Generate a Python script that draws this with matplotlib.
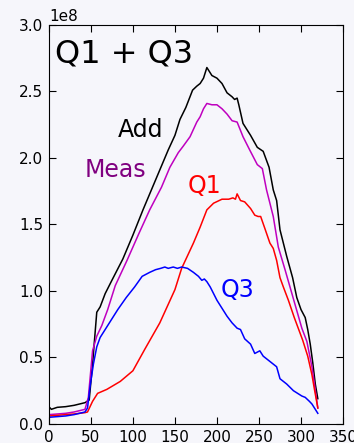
import matplotlib
matplotlib.use("Agg")
import matplotlib.pyplot as plt

# channel index vs. intensity for the summed and measured profiles
add_x = [0, 3, 10, 20, 30, 43, 48, 52, 57, 61, 67, 75, 88, 100, 112, 122, 132, 142, 150,
         156, 163, 171, 176, 180, 184, 188, 194, 200, 206, 212, 218, 221, 224, 226, 231,
         240, 248, 255, 262, 267, 271, 275, 283, 290, 295, 300, 305, 308, 311, 314, 317,
         320]
add_y = [0.13, 0.11, 0.125, 0.13, 0.14, 0.16, 0.18, 0.45, 0.84, 0.88, 0.98, 1.08, 1.24,
         1.42, 1.61, 1.76, 1.91, 2.06, 2.17, 2.29, 2.38, 2.51, 2.54, 2.56, 2.60, 2.68,
         2.62, 2.60, 2.56, 2.49, 2.46, 2.44, 2.45, 2.40, 2.26, 2.17, 2.08, 2.05, 1.93,
         1.76, 1.68, 1.46, 1.26, 1.10, 0.95, 0.86, 0.80, 0.71, 0.60, 0.46, 0.30, 0.19]

meas_x = [0, 10, 20, 30, 43, 47, 52, 57, 63, 70, 79, 93, 107, 120, 134, 144, 154, 160,
          168, 176, 180, 184, 188, 194, 200, 206, 212, 218, 224, 231, 239, 248, 254,
          259, 267, 273, 281, 291, 296, 301, 307, 313, 316, 320]
meas_y = [0.07, 0.075, 0.08, 0.09, 0.11, 0.20, 0.55, 0.66, 0.74, 0.86, 1.04, 1.23, 1.43,
          1.61, 1.78, 1.93, 2.04, 2.09, 2.16, 2.27, 2.31, 2.37, 2.41, 2.40, 2.40, 2.37,
          2.33, 2.28, 2.27, 2.16, 2.06, 1.95, 1.92, 1.76, 1.56, 1.33, 1.16, 0.94, 0.83,
          0.72, 0.62, 0.43, 0.30, 0.12]

q1_x = [0, 10, 20, 30, 43, 46, 52, 58, 69, 85, 100, 114, 132, 150, 158, 172, 180, 188,
        196, 206, 214, 219, 222, 224, 228, 233, 240, 245, 249, 252, 257, 263, 267,
        271, 275, 279, 285, 292, 302, 308, 313, 316, 320]
q1_y = [0.06, 0.065, 0.07, 0.075, 0.085, 0.09, 0.17, 0.23, 0.26, 0.32, 0.40, 0.56, 0.76,
        1.01, 1.17, 1.36, 1.48, 1.61, 1.66, 1.69, 1.69, 1.70, 1.69, 1.73, 1.68, 1.67,
        1.62, 1.57, 1.56, 1.56, 1.47, 1.36, 1.32, 1.23, 1.10, 1.03, 0.93, 0.80, 0.63,
        0.51, 0.37, 0.26, 0.12]

q3_x = [0, 10, 20, 30, 43, 46, 49, 53, 57, 61, 67, 74, 82, 92, 102, 111, 120, 127,
        133, 138, 142, 148, 153, 158, 165, 172, 178, 182, 185, 188, 192, 196, 200, 206,
        212, 218, 224, 228, 233, 240, 245, 251, 255, 259, 265, 271, 275, 283, 291,
        296, 301, 305, 310, 313, 316, 320]
q3_y = [0.05, 0.055, 0.06, 0.07, 0.09, 0.12, 0.28, 0.45, 0.58, 0.65, 0.71, 0.78, 0.86,
        0.95, 1.03, 1.11, 1.14, 1.16, 1.17, 1.18, 1.17, 1.18, 1.17, 1.18, 1.17, 1.14,
        1.11, 1.08, 1.09, 1.07, 1.03, 0.98, 0.93, 0.87, 0.81, 0.76, 0.72, 0.71, 0.64,
        0.60, 0.53, 0.55, 0.51, 0.49, 0.46, 0.43, 0.34, 0.30, 0.25, 0.23, 0.21, 0.20,
        0.17, 0.15, 0.12, 0.08]

scale = 1e8
bg = '#f6f6fb'

fig = plt.figure(figsize=(3.54, 4.43), dpi=100, facecolor=bg)
ax = fig.add_axes([0.138, 0.043, 0.831, 0.9006], facecolor=bg)

ax.plot(add_x, [v * scale for v in add_y], color='k', lw=1.1)
ax.plot(meas_x, [v * scale for v in meas_y], color='m', lw=1.1)
ax.plot(q1_x, [v * scale for v in q1_y], color='r', lw=1.1)
ax.plot(q3_x, [v * scale for v in q3_y], color='b', lw=1.1)

ax.set_xlim(0, 350)
ax.set_ylim(0, 3e8)
ax.set_xticks(range(0, 351, 50))
ax.set_yticks([i * 0.5e8 for i in range(7)])
ax.tick_params(direction='in', top=True, right=True, length=5, labelsize=11, pad=4)
ax.yaxis.get_offset_text().set_fontsize(11)

ax.text(7, 2.72 * scale, 'Q1 + Q3', fontsize=23)
ax.text(82, 2.16 * scale, 'Add', fontsize=17, color='k')
ax.text(43, 1.86 * scale, 'Meas', fontsize=17, color='purple')
ax.text(165, 1.74 * scale, 'Q1', fontsize=17, color='r')
ax.text(204, 0.955 * scale, 'Q3', fontsize=17, color='b')

fig.savefig('out.png', dpi=100, facecolor=bg)
